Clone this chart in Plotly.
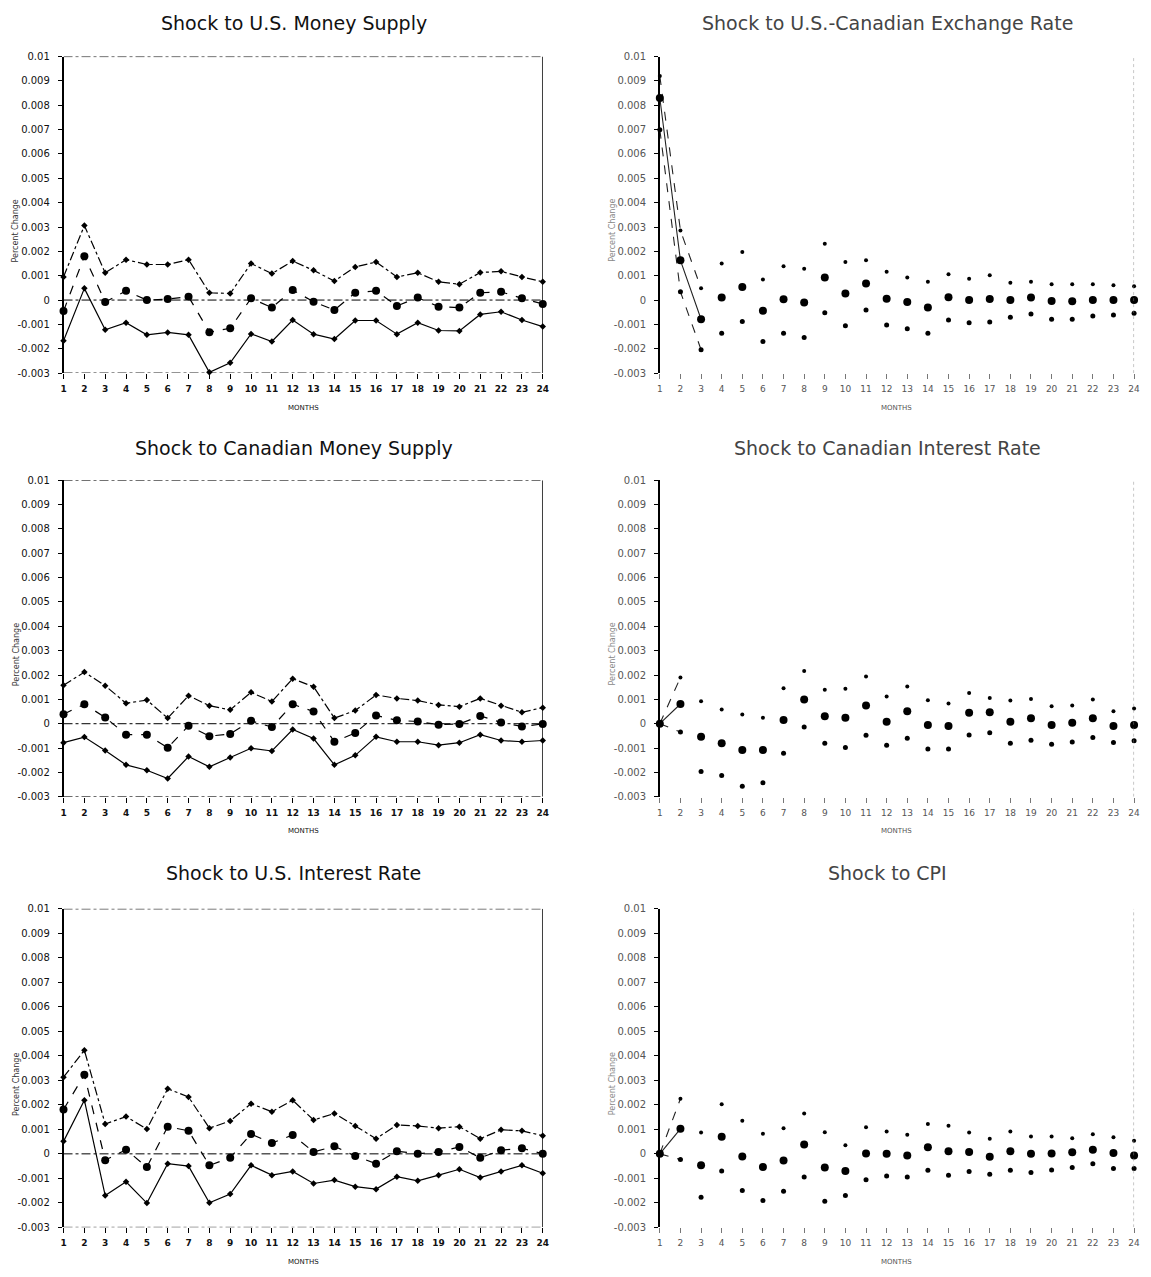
import plotly.graph_objects as go

months = list(range(1, 25))
y_tickvals = [0.01, 0.009, 0.008, 0.007, 0.006, 0.005, 0.004, 0.003, 0.002, 0.001, 0, -0.001, -0.002, -0.003]
y_ticktext = ["0.01", "0.009", "0.008", "0.007", "0.006", "0.005", "0.004", "0.003", "0.002", "0.001", "0", "-0.001", "-0.002", "-0.003"]

titles = [
    "Shock to U.S. Money Supply",
    "Shock to U.S.-Canadian Exchange Rate",
    "Shock to Canadian Money Supply",
    "Shock to Canadian Interest Rate",
    "Shock to U.S. Interest Rate",
    "Shock to CPI",
]

# values in units of 0.001
us_money_upper = [0.95, 3.06, 1.12, 1.66, 1.46, 1.46, 1.66, 0.30, 0.27, 1.50, 1.09, 1.60, 1.22, 0.78, 1.36, 1.56, 0.95, 1.12, 0.75, 0.65, 1.13, 1.18, 0.95, 0.75]
us_money_mid = [-0.45, 1.80, -0.08, 0.38, 0.00, 0.04, 0.14, -1.32, -1.16, 0.07, -0.31, 0.41, -0.07, -0.41, 0.30, 0.38, -0.24, 0.10, -0.27, -0.31, 0.30, 0.34, 0.07, -0.16]
us_money_lower = [-1.67, 0.48, -1.22, -0.93, -1.43, -1.33, -1.43, -2.97, -2.58, -1.39, -1.70, -0.82, -1.40, -1.60, -0.84, -0.84, -1.40, -0.93, -1.25, -1.27, -0.59, -0.48, -0.82, -1.09]

exch_upper = [9.20, 2.86, 0.48, 1.50, 1.97, 0.84, 1.39, 1.29, 2.31, 1.56, 1.63, 1.16, 0.93, 0.75, 1.06, 0.88, 1.02, 0.71, 0.75, 0.65, 0.65, 0.65, 0.61, 0.57]
exch_mid = [8.30, 1.63, -0.79, 0.10, 0.54, -0.44, 0.03, -0.10, 0.93, 0.27, 0.68, 0.05, -0.08, -0.31, 0.11, 0.00, 0.04, 0.00, 0.10, -0.04, -0.05, 0.00, 0.00, 0.00]
exch_lower = [7.00, 0.34, -2.04, -1.36, -0.88, -1.70, -1.36, -1.54, -0.52, -1.06, -0.41, -1.02, -1.18, -1.36, -0.82, -0.93, -0.90, -0.71, -0.57, -0.79, -0.79, -0.65, -0.61, -0.54]

can_money_upper = [1.58, 2.12, 1.56, 0.84, 0.97, 0.23, 1.15, 0.74, 0.57, 1.29, 0.91, 1.85, 1.52, 0.23, 0.54, 1.18, 1.04, 0.95, 0.77, 0.70, 1.04, 0.74, 0.47, 0.66]
can_money_mid = [0.39, 0.80, 0.26, -0.45, -0.45, -0.99, -0.08, -0.51, -0.42, 0.12, -0.14, 0.80, 0.50, -0.74, -0.38, 0.34, 0.14, 0.09, -0.04, -0.01, 0.32, 0.05, -0.11, -0.01]
can_money_lower = [-0.78, -0.55, -1.10, -1.69, -1.91, -2.25, -1.35, -1.77, -1.39, -1.01, -1.12, -0.24, -0.61, -1.69, -1.30, -0.54, -0.74, -0.74, -0.88, -0.78, -0.45, -0.69, -0.74, -0.69]

can_int_upper = [0.00, 1.90, 0.92, 0.58, 0.38, 0.24, 1.46, 2.17, 1.40, 1.44, 1.94, 1.12, 1.53, 0.96, 0.83, 1.26, 1.06, 0.95, 1.02, 0.72, 0.75, 0.99, 0.51, 0.62]
can_int_mid = [0.00, 0.81, -0.54, -0.80, -1.08, -1.08, 0.15, 0.99, 0.31, 0.24, 0.75, 0.08, 0.51, -0.05, -0.09, 0.45, 0.47, 0.08, 0.22, -0.05, 0.04, 0.22, -0.09, -0.05]
can_int_lower = [0.00, -0.34, -1.96, -2.13, -2.57, -2.43, -1.21, -0.14, -0.80, -0.98, -0.47, -0.88, -0.60, -1.04, -1.04, -0.46, -0.37, -0.80, -0.68, -0.84, -0.75, -0.57, -0.77, -0.70]

us_int_upper = [3.13, 4.23, 1.22, 1.52, 1.01, 2.66, 2.32, 1.05, 1.34, 2.05, 1.72, 2.19, 1.38, 1.65, 1.14, 0.62, 1.18, 1.14, 1.05, 1.11, 0.62, 0.98, 0.94, 0.74]
us_int_mid = [1.81, 3.23, -0.26, 0.17, -0.54, 1.11, 0.94, -0.47, -0.16, 0.81, 0.44, 0.77, 0.08, 0.31, -0.09, -0.40, 0.11, 0.00, 0.08, 0.28, -0.16, 0.15, 0.23, 0.00]
us_int_lower = [0.51, 2.19, -1.70, -1.14, -2.01, -0.40, -0.50, -2.00, -1.64, -0.47, -0.87, -0.72, -1.21, -1.07, -1.34, -1.44, -0.93, -1.10, -0.87, -0.63, -0.97, -0.72, -0.47, -0.79]

cpi_upper = [0.00, 2.25, 0.87, 2.02, 1.35, 0.82, 1.05, 1.65, 0.88, 0.35, 1.09, 0.91, 0.78, 1.22, 1.15, 0.87, 0.62, 0.91, 0.71, 0.71, 0.64, 0.80, 0.68, 0.54]
cpi_mid = [0.00, 1.02, -0.46, 0.70, -0.11, -0.54, -0.27, 0.38, -0.56, -0.70, 0.01, 0.00, -0.07, 0.27, 0.11, 0.08, -0.12, 0.11, 0.00, 0.01, 0.07, 0.17, 0.03, -0.07]
cpi_lower = [0.00, -0.23, -1.77, -0.70, -1.50, -1.90, -1.53, -0.94, -1.93, -1.70, -1.06, -0.90, -0.94, -0.67, -0.87, -0.72, -0.83, -0.67, -0.76, -0.66, -0.56, -0.40, -0.60, -0.60]

panels = [
    (us_money_upper, us_money_mid, us_money_lower),
    (exch_upper, exch_mid, exch_lower),
    (can_money_upper, can_money_mid, can_money_lower),
    (can_int_upper, can_int_mid, can_int_lower),
    (us_int_upper, us_int_mid, us_int_lower),
    (cpi_upper, cpi_mid, cpi_lower),
]
# number of leading points joined by lines in the faint (right-hand) panels
right_line_pts = {1: 3, 3: 2, 5: 2}

W, H = 1151, 1277
col_px = [(61, 544), (662, 1140)]
row_px = [(52, 371), (479, 798), (911, 1232)]
title_px = [18, 446, 875]

fig = go.Figure()
layout = dict(
    width=W, height=H, margin=dict(l=0, r=0, t=0, b=0),
    paper_bgcolor="white", plot_bgcolor="white", showlegend=False,
    font=dict(family="DejaVu Sans", color="#111"),
)
shapes = []
annotations = []

for i, (up, mid, lo) in enumerate(panels):
    r, c = divmod(i, 2)
    left = c == 0
    xs = "" if i == 0 else str(i + 1)
    xa, ya = "x" + xs, "y" + xs
    x0, x1 = col_px[c]
    yt, yb = row_px[r]
    dom_x = [x0 / W, x1 / W]
    dom_y = [1 - yb / H, 1 - yt / H]
    up_v = [v / 1000 for v in up]
    mid_v = [v / 1000 for v in mid]
    lo_v = [v / 1000 for v in lo]
    txtcol = "#111" if left else "#555"

    if left:
        for vals, dash, sym, size in [(up_v, "dashdot", "diamond", 5),
                                      (mid_v, "dash", "circle", 8),
                                      (lo_v, "solid", "diamond", 5)]:
            fig.add_trace(go.Scatter(x=months, y=vals, mode="lines+markers",
                                     line=dict(color="black", width=1.2, dash=dash),
                                     marker=dict(color="black", size=size, symbol=sym),
                                     cliponaxis=False, xaxis=xa, yaxis=ya))
    else:
        n = right_line_pts[i]
        for vals, dash in [(up_v, "dash"), (mid_v, "solid"), (lo_v, "dash")]:
            fig.add_trace(go.Scatter(x=months[:n], y=vals[:n], mode="lines",
                                     line=dict(color="#222", width=1.1, dash=dash),
                                     cliponaxis=False, xaxis=xa, yaxis=ya))
        for vals, size in [(up_v, 4), (mid_v, 8), (lo_v, 5)]:
            fig.add_trace(go.Scatter(x=months, y=vals, mode="markers",
                                     marker=dict(color="black", size=size),
                                     cliponaxis=False, xaxis=xa, yaxis=ya))

    layout["xaxis" + xs] = dict(
        domain=dom_x, anchor=ya, range=[1, 24], tickvals=months,
        ticktext=[str(m) for m in months], ticks="outside", ticklen=5,
        tickcolor="black" if left else "#777", showline=False, showgrid=False,
        zeroline=False,
        tickfont=dict(size=9, color=txtcol, family="DejaVu Sans",
                      weight="bold" if left else "normal"),
        ticklabelstandoff=2,
    )
    layout["yaxis" + xs] = dict(
        domain=dom_y, anchor=xa, range=[-0.003, 0.01], tickvals=y_tickvals,
        ticktext=y_ticktext, ticks="outside", ticklen=4, tickcolor="black",
        showline=True, linecolor="black", linewidth=1.5, showgrid=False,
        zeroline=False, tickfont=dict(size=10, color=txtcol, family="DejaVu Sans"),
        ticklabelstandoff=6,
    )

    if left:
        for yv in (0.01, 0, -0.003):
            shapes.append(dict(type="line", xref=xa, yref=ya, x0=1, x1=24, y0=yv, y1=yv,
                               line=dict(color="black", width=1, dash="dashdot")))
        shapes.append(dict(type="line", xref=xa, yref=ya, x0=24, x1=24, y0=-0.003, y1=0.01,
                           line=dict(color="black", width=1.5)))
    else:
        shapes.append(dict(type="line", xref=xa, yref=ya, x0=24, x1=24, y0=-0.003, y1=0.01,
                           line=dict(color="#888", width=1, dash="dot")))

    annotations.append(dict(text=titles[i], x=(x0 + x1) / 2 / W - 0.008, y=1 - title_px[r] / H,
                            xref="paper", yref="paper", showarrow=False,
                            xanchor="center", yanchor="middle",
                            font=dict(size=19, color="#111" if left else "#444",
                                      family="DejaVu Sans")))
    annotations.append(dict(text="MONTHS", x=(x0 + x1) / 2 / W, y=1 - (yb + 35) / H,
                            xref="paper", yref="paper", showarrow=False,
                            xanchor="center", yanchor="middle",
                            font=dict(size=7, color=txtcol, family="DejaVu Sans")))
    annotations.append(dict(text="Percent Change", x=(x0 - 48) / W, y=1 - (yt + 0.55 * (yb - yt)) / H,
                            xref="paper", yref="paper", showarrow=False, textangle=-90,
                            xanchor="center", yanchor="middle",
                            font=dict(size=8, color="#333" if left else "#888",
                                      family="DejaVu Sans")))

layout["shapes"] = shapes
layout["annotations"] = annotations
fig.update_layout(**layout)
fig.write_html("out.html")
